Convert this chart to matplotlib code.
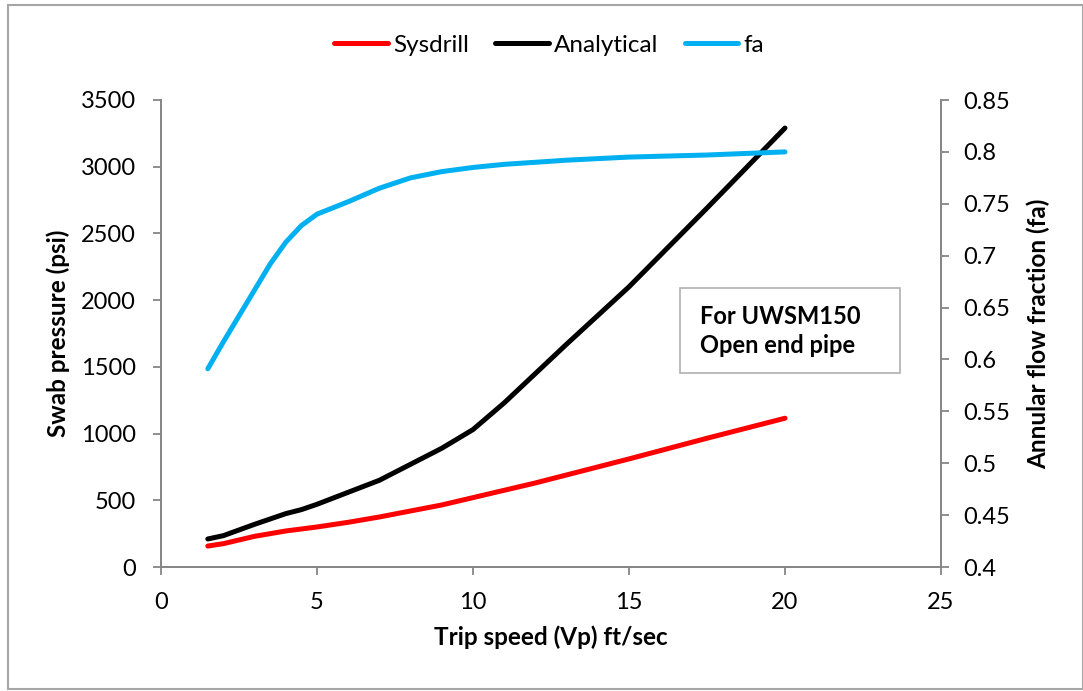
import numpy as np
import matplotlib.pyplot as plt
from matplotlib.patches import Rectangle

# trip speed, ft/sec
vp = [1.5, 2, 3, 3.5, 4, 4.5, 5, 6, 7, 8, 9, 10, 11, 12, 13, 15, 17.5, 20]
# swab pressure, psi
sysdrill = [157, 175, 230, 250, 270, 285, 300, 335, 375, 420, 465, 520, 575, 630, 690, 810, 965, 1115]
analytical = [210, 235, 320, 360, 400, 430, 470, 560, 650, 770, 890, 1030, 1230, 1450, 1670, 2100, 2690, 3290]
# annular flow fraction
fa = [0.591, 0.617, 0.667, 0.692, 0.713, 0.729, 0.740, 0.752, 0.765, 0.775, 0.781, 0.785, 0.788, 0.790, 0.792, 0.795, 0.797, 0.800]

plt.rcParams['font.family'] = ['Lato', 'DejaVu Sans']
grey = '#868686'

fig = plt.figure(figsize=(10.83, 6.91), dpi=100)
fig.patches.append(Rectangle((8 / 1083, 2 / 691), 1 - 8 / 1083, 1 - 7 / 691, transform=fig.transFigure,
                             fill=False, edgecolor='#a6a6a6', linewidth=1.5))

ax = fig.add_axes([161 / 1083, 1 - 567 / 691, 780 / 1083, 467 / 691])
ax2 = ax.twinx()

l1, = ax.plot(vp, sysdrill, color='#ff0000', lw=3.6, solid_capstyle='round', solid_joinstyle='round')
l2, = ax.plot(vp, analytical, color='#000000', lw=3.6, solid_capstyle='round', solid_joinstyle='round')
l3, = ax2.plot(vp, fa, color='#00b0f0', lw=3.6, solid_capstyle='round', solid_joinstyle='round')

ax.set_xlim(0, 25)
ax.set_ylim(0, 3500)
ax.set_xticks([0, 5, 10, 15, 20, 25])
ax.set_yticks(np.arange(0, 3501, 500))
ax2.set_ylim(0.4, 0.85)
ax2.set_yticks([0.4, 0.45, 0.5, 0.55, 0.6, 0.65, 0.7, 0.75, 0.8, 0.85])
ax2.set_yticklabels(['0.4', '0.45', '0.5', '0.55', '0.6', '0.65', '0.7', '0.75', '0.8', '0.85'])

for a in (ax, ax2):
    a.spines['top'].set_visible(False)
    for s in ('left', 'right', 'bottom'):
        a.spines[s].set_color(grey)
        a.spines[s].set_linewidth(1.3)
    a.tick_params(colors=grey, labelcolor='black', labelsize=17, length=6, width=1.3)
ax.tick_params(axis='y', pad=12)
ax2.tick_params(axis='y', pad=10)
ax.tick_params(axis='x', pad=12)

ax.set_xlabel('Trip speed (Vp) ft/sec', fontsize=17.5, fontweight='bold', labelpad=9)
ax.set_ylabel('Swab pressure (psi)', fontsize=17.5, fontweight='bold', labelpad=8)
ax2.set_ylabel('Annular flow fraction (fa)', fontsize=17.5, fontweight='bold', labelpad=12)

fig.legend([l1, l2, l3], ['Sysdrill', 'Analytical', 'fa'], loc='center', bbox_to_anchor=(0.507, 1 - 45 / 691),
           ncol=3, frameon=False, fontsize=17.5, handlelength=2.2, handletextpad=0.2, columnspacing=1.1)

ax.add_patch(Rectangle((0.6654, 0.4154), 0.282, 0.182, transform=ax.transAxes, facecolor='white',
                       edgecolor='#b0b0b0', linewidth=1.2, zorder=3))
ax.text(0.691, 0.506, 'For UWSM150\nOpen end pipe', transform=ax.transAxes, fontsize=17, fontweight='bold',
        va='center', ha='left', linespacing=1.3, zorder=4)

fig.savefig('out.png', dpi=100)
